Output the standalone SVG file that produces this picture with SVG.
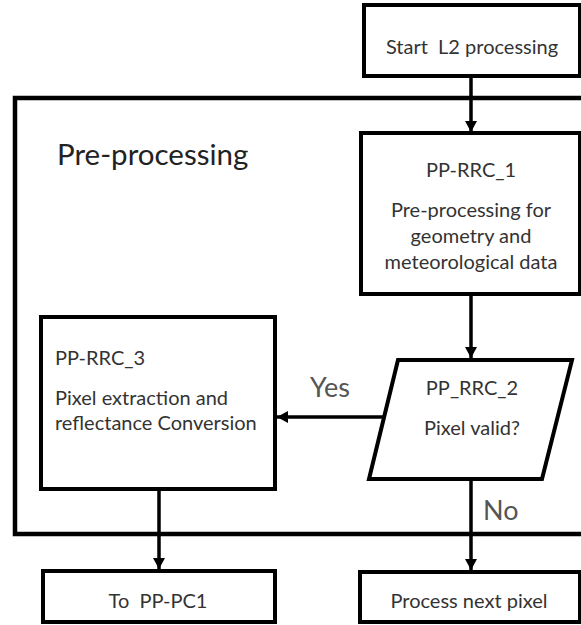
<svg xmlns="http://www.w3.org/2000/svg" width="581" height="625" viewBox="0 0 581 625">
  <defs>
    <marker id="arr" markerUnits="userSpaceOnUse" markerWidth="14" markerHeight="12" refX="11" refY="6" orient="auto">
      <path d="M0,0 L11,6 L0,12 Z" fill="#000"/>
    </marker>
    <style>
      .box { fill: #fff; stroke: #000; stroke-width: 4; }
      .frame { fill: none; stroke: #000; stroke-width: 4.5; }
      .conn { fill: none; stroke: #000; stroke-width: 3.5; }
      .t { font-family: Lato, "Liberation Sans", sans-serif; font-size: 20px; fill: #333; white-space: pre; }
      .m { text-anchor: middle; }
      .big { font-family: Lato, "Liberation Sans", sans-serif; font-size: 27px; fill: #555; }
      .title { font-family: Lato, "Liberation Sans", sans-serif; font-size: 29.5px; fill: #222; }
    </style>
  </defs>
  <rect width="581" height="625" fill="#fff"/>

  <g id="preprocessing-frame">
    <rect class="frame" x="15" y="98" width="600" height="436"/>
    <text class="title" x="57" y="165">Pre-processing</text>
  </g>

  <g id="connectors">
    <line class="conn" x1="471" y1="76" x2="471" y2="132" marker-end="url(#arr)"/>
    <line class="conn" x1="471" y1="294" x2="471" y2="358" marker-end="url(#arr)"/>
    <line class="conn" x1="384" y1="417" x2="277" y2="417" marker-end="url(#arr)"/>
    <line class="conn" x1="159" y1="489" x2="159" y2="569" marker-end="url(#arr)"/>
    <line class="conn" x1="471" y1="479" x2="471" y2="570" marker-end="url(#arr)"/>
    <text class="big" x="310" y="397">Yes</text>
    <text class="big" x="483" y="520" font-size="28">No</text>
  </g>

  <g id="start">
    <rect class="box" x="364" y="5" width="216" height="71" stroke-width="3.5"/>
    <text class="t m" x="472" y="54" xml:space="preserve">Start  L2 processing</text>
  </g>

  <g id="pp-rrc-1">
    <rect class="box" x="361" y="133" width="219" height="161"/>
    <text class="t m" x="471" y="177">PP-RRC_1</text>
    <text class="t m" x="471" y="217">Pre-processing for</text>
    <text class="t m" x="471" y="243">geometry and</text>
    <text class="t m" x="471" y="269">meteorological data</text>
  </g>

  <g id="pp-rrc-2">
    <polygon class="box" points="398,360 572,360 542,479 369,479"/>
    <text class="t m" x="472" y="395">PP_RRC_2</text>
    <text class="t m" x="472" y="435">Pixel valid?</text>
  </g>

  <g id="pp-rrc-3">
    <rect class="box" x="41" y="317" width="234" height="172"/>
    <text class="t" x="55" y="365">PP-RRC_3</text>
    <text class="t" x="55" y="405">Pixel extraction and</text>
    <text class="t" x="55" y="430">reflectance Conversion</text>
  </g>

  <g id="to-pp-pc1">
    <rect class="box" x="43" y="571" width="232" height="51"/>
    <text class="t m" x="158" y="608" xml:space="preserve">To  PP-PC1</text>
  </g>

  <g id="next-pixel">
    <rect class="box" x="360" y="572" width="220" height="50"/>
    <text class="t m" x="469" y="608">Process next pixel</text>
  </g>
</svg>
